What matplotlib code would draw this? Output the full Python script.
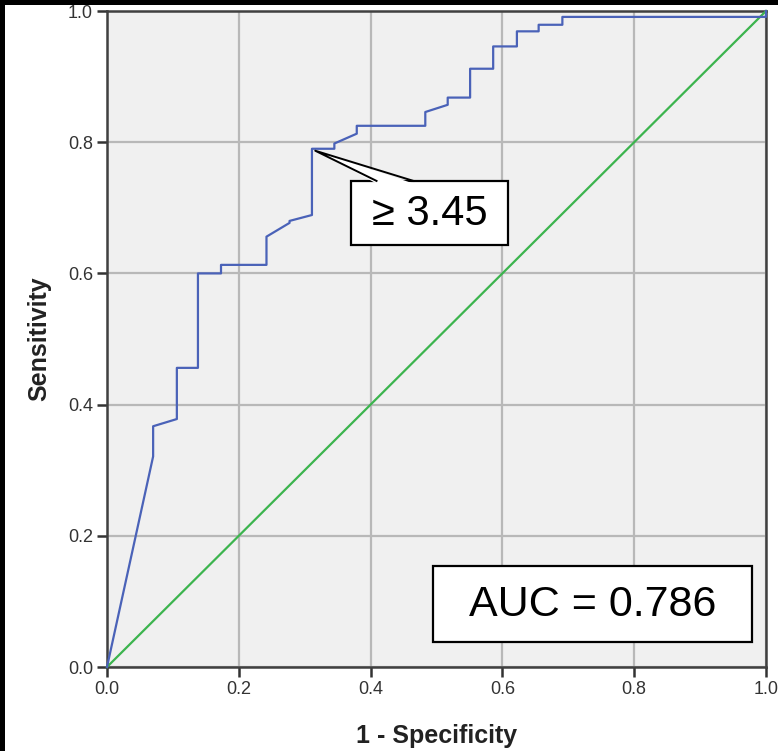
import matplotlib
matplotlib.use("Agg")
import matplotlib.pyplot as plt
from matplotlib.patches import Rectangle, Polygon

# ROC curve (1 - specificity, sensitivity)
fpr = [0.0, 0.070, 0.070, 0.106, 0.106, 0.138, 0.138, 0.173, 0.173, 0.242,
       0.242, 0.277, 0.277, 0.311, 0.311, 0.345, 0.345, 0.379, 0.379, 0.483,
       0.483, 0.517, 0.517, 0.551, 0.551, 0.586, 0.586, 0.622, 0.622, 0.655,
       0.655, 0.691, 0.691, 1.0, 1.0]
tpr = [0.0, 0.321, 0.367, 0.378, 0.456, 0.456, 0.600, 0.600, 0.613, 0.613,
       0.656, 0.677, 0.680, 0.689, 0.790, 0.790, 0.798, 0.813, 0.825, 0.825,
       0.846, 0.857, 0.868, 0.868, 0.912, 0.912, 0.946, 0.946, 0.969, 0.969,
       0.979, 0.979, 0.991, 0.991, 1.0]
ref_line = [0.0, 1.0]
ticks = [0.0, 0.2, 0.4, 0.6, 0.8, 1.0]
tick_labels = ["0.0", "0.2", "0.4", "0.6", "0.8", "1.0"]
cutoff_label = "\u2265 3.45"
cutoff_point = (0.316, 0.787)
auc_label = "AUC = 0.786"

plt.rcParams['font.family'] = ['Liberation Sans', 'DejaVu Sans']

fig = plt.figure(figsize=(7.78, 7.51), dpi=100)
ax = fig.add_axes([107 / 778, 84 / 751, 659 / 778, 656 / 751])
ax.set_facecolor('#f0f0f0')

ax.plot(ref_line, ref_line, color='#3cb44e', lw=1.6, zorder=3, clip_on=False)
ax.plot(fpr, tpr, color='#4a62b8', lw=1.6, zorder=4, clip_on=False)

ax.set_xlim(0, 1)
ax.set_ylim(0, 1)
ax.set_xticks(ticks)
ax.set_xticklabels(tick_labels)
ax.set_yticks(ticks)
ax.set_yticklabels(tick_labels)
ax.grid(True, color='#b8b8b8', lw=1.6, zorder=1)
ax.set_axisbelow(True)
for s in ax.spines.values():
    s.set_color('#404040')
    s.set_linewidth(1.8)
ax.tick_params(direction='out', length=7, width=1.8, color='#333333',
               labelsize=13, labelcolor='#333333', pad=3)

ax.set_xlabel("1 - Specificity", fontsize=18, fontweight='bold',
              color='#222222', labelpad=19)
ax.set_ylabel("Sensitivity", fontsize=18, fontweight='bold',
              color='#222222', labelpad=12)

# callout box for the cut-off
box_x0, box_x1, box_y0, box_y1 = 0.370, 0.609, 0.643, 0.741
base_a, base_b = 0.409, 0.465
ax.add_patch(Rectangle((box_x0, box_y0), box_x1 - box_x0, box_y1 - box_y0,
                       facecolor='white', edgecolor='black', lw=1.6, zorder=6))
ax.add_patch(Polygon([cutoff_point, (base_a, box_y1 - 0.004),
                      (base_b, box_y1 - 0.004)], closed=True,
                     facecolor='white', edgecolor='none', zorder=7))
ax.plot([base_a, cutoff_point[0], base_b], [box_y1, cutoff_point[1], box_y1],
        color='black', lw=1.4, zorder=8)
ax.text((box_x0 + box_x1) / 2, (box_y0 + box_y1) / 2 - 0.002, cutoff_label,
        fontsize=30, ha='center', va='center', zorder=9)

# AUC box
auc_x0, auc_x1, auc_y0, auc_y1 = 0.494, 0.979, 0.038, 0.154
ax.add_patch(Rectangle((auc_x0, auc_y0), auc_x1 - auc_x0, auc_y1 - auc_y0,
                       facecolor='white', edgecolor='black', lw=1.6, zorder=6))
ax.text((auc_x0 + auc_x1) / 2, (auc_y0 + auc_y1) / 2 - 0.002, auc_label,
        fontsize=31, ha='center', va='center', zorder=9)

# black strips on the left and top edges of the original image
fig.patches.append(Rectangle((0, 0), 5 / 778, 1, transform=fig.transFigure,
                             facecolor='black', edgecolor='none'))
fig.patches.append(Rectangle((0, 1 - 5 / 751), 1, 5 / 751,
                             transform=fig.transFigure,
                             facecolor='black', edgecolor='none'))

fig.savefig("out.png", dpi=100)
